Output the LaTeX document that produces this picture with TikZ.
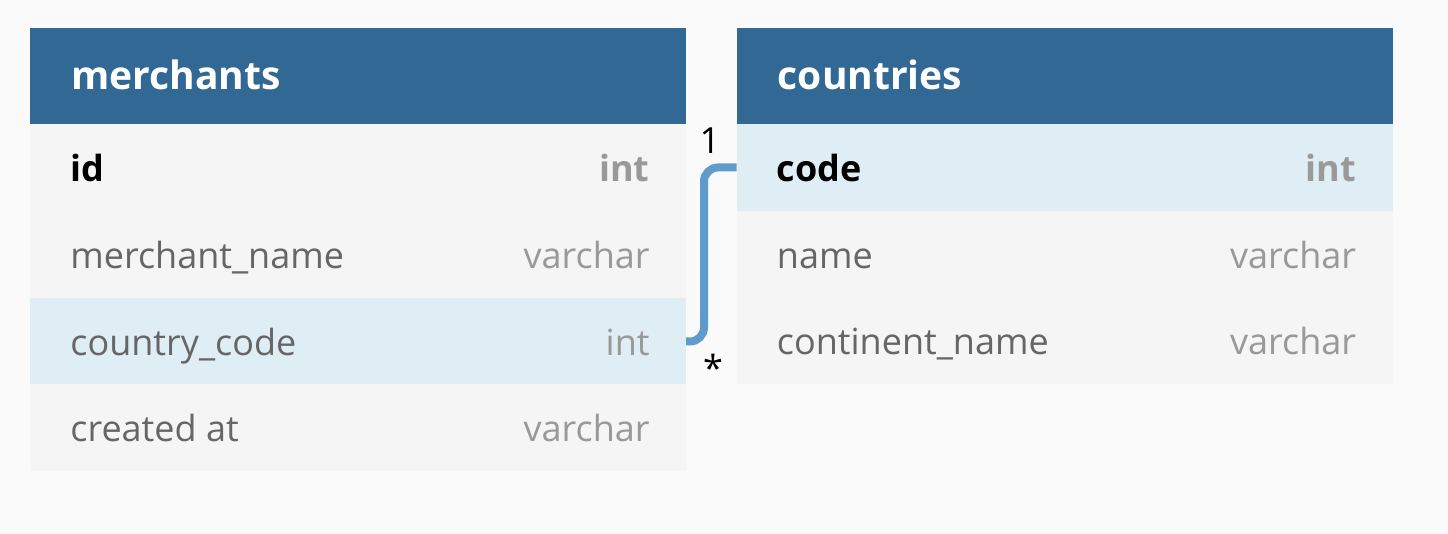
\documentclass[tikz,border=0pt]{standalone}
\usepackage{fontspec}
\setmainfont{Open Sans}
\usetikzlibrary{positioning}
\definecolor{bg}{HTML}{FAFAFA}
\definecolor{head}{HTML}{326894}
\definecolor{rowc}{HTML}{F5F5F5}
\definecolor{hl}{HTML}{DFEDF5}
\definecolor{relc}{HTML}{5F9BCB}
\definecolor{namec}{HTML}{666666}
\definecolor{typec}{HTML}{999999}
\newcommand\fsH{\fontsize{19.5}{23}\selectfont}
\newcommand\fsR{\fontsize{18}{21}\selectfont}
\begin{document}
\begin{tikzpicture}[x=0.5pt,y=-0.5pt,
  hdr/.style={fill=head,minimum width=328pt,minimum height=48pt,inner sep=0,outer sep=0},
  row/.style={fill=rowc,minimum width=328pt,minimum height=43.5pt,inner sep=0,outer sep=0},
  key/.style={row,fill=hl},
  htext/.style={anchor=base west,font=\fsH\bfseries,text=white,inner sep=0},
  fname/.style={anchor=base west,font=\fsR,text=namec,inner sep=0},
  ftype/.style={anchor=base east,font=\fsR,text=typec,inner sep=0},
  card/.style={font=\fsR,inner sep=0},
  rel/.style={relc,line width=4pt,rounded corners=7pt}]
\fill[bg] (0,0) rectangle (1448,534);
\useasboundingbox (0,0) rectangle (1448,534);
\def\L{20pt}\def\R{-18pt}\def\B{-7pt}
% ============ merchants ============
\node[hdr] (m-head) at (358,76) {};
\node[row] (m-id)   at (358,167.5) {};
\node[row] (m-name) at (358,254.5) {};
\node[key] (m-cc)   at (358,341.5) {};
\node[row] (m-at)   at (358,428)   {};
\node[htext] at ([xshift=20.5pt,yshift=-7pt]m-head.west) {merchants};
\node[fname,text=black,font=\fsR\bfseries] at ([xshift=\L,yshift=\B]m-id.west) {id};
\node[ftype,font=\fsR\bfseries] at ([xshift=\R,yshift=\B]m-id.east) {int};
\node[fname] at ([xshift=\L,yshift=\B]m-name.west) {merchant\_name};
\node[ftype] at ([xshift=\R,yshift=\B]m-name.east) {varchar};
\node[fname] at ([xshift=\L,yshift=\B]m-cc.west) {country\_code};
\node[ftype] at ([xshift=\R,yshift=\B]m-cc.east) {int};
\node[fname] at ([xshift=\L,yshift=\B]m-at.west) {created at};
\node[ftype] at ([xshift=\R,yshift=\B]m-at.east) {varchar};
% ============ countries ============
\node[hdr] (c-head) at (1064.5,76) {};
\node[key] (c-code) at (1064.5,167.5) {};
\node[row] (c-name) at (1064.5,254.5) {};
\node[row] (c-cont) at (1064.5,341) {};
\node[htext] at ([xshift=20.5pt,yshift=-7pt]c-head.west) {countries};
\node[fname,text=black,font=\fsR\bfseries] at ([xshift=\L,yshift=\B]c-code.west) {code};
\node[ftype,font=\fsR\bfseries] at ([xshift=\R,yshift=\B]c-code.east) {int};
\node[fname] at ([xshift=\L,yshift=\B]c-name.west) {name};
\node[ftype] at ([xshift=\R,yshift=\B]c-name.east) {varchar};
\node[fname] at ([xshift=\L,yshift=\B]c-cont.west) {continent\_name};
\node[ftype] at ([xshift=\R,yshift=\B]c-cont.east) {varchar};
% relation
\draw[rel] (m-cc.east) -- ++(18,0) |- (c-code.west);
\node[card] at (710,141) {1};
\node[card] at (713,368) {*};
\end{tikzpicture}
\end{document}
